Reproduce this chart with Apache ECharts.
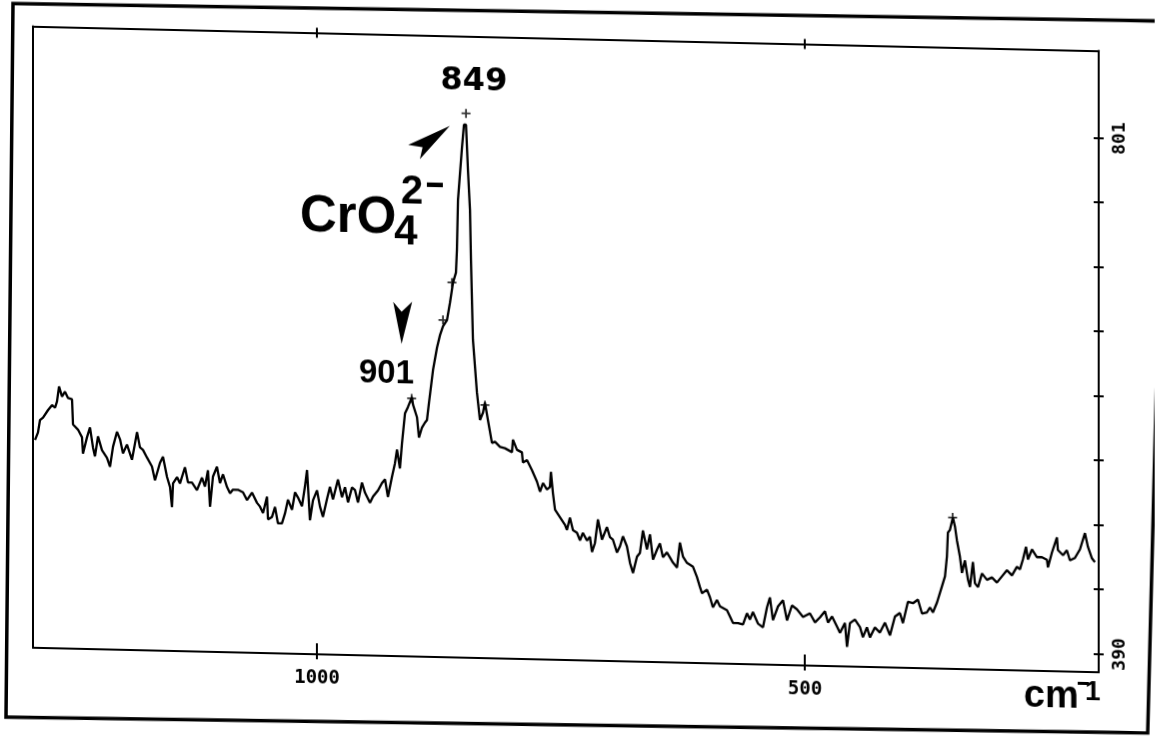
<!DOCTYPE html>
<html><head><meta charset="utf-8">
<script src="https://cdn.jsdelivr.net/npm/echarts@6/dist/echarts.min.js"></script>
<style>
html,body{margin:0;padding:0;background:#fff;overflow:hidden;width:1155px;height:736px}
#wrap{position:absolute;left:0;top:-24px;width:1155px;height:760px;transform:skewY(1.3176deg);transform-origin:0 0}
#main{width:1155px;height:760px}
</style></head><body>
<div id="wrap"><div id="main"></div></div>
<script>
// Raman shift (cm-1), descending as plotted
const wavenumber = [
1288.9,1285.9,1283.8,1280.7,1275.6,1271.5,1268.4,1266.4,1264.3,1261.3,
1258.2,1255.1,1251.0,1250.0,1244.9,1240.8,1239.8,1235.7,1232.6,1229.5,
1227.5,1224.4,1220.3,1215.2,1212.1,1209.0,1204.9,1201.8,1198.8,1194.7,
1189.6,1186.5,1184.4,1181.4,1178.3,1174.2,1169.1,1166.0,1160.9,1157.8,
1153.7,1150.6,1148.6,1147.5,1143.4,1140.4,1135.3,1132.2,1128.1,1123.0,
1117.8,1114.8,1111.7,1109.6,1106.6,1102.5,1099.4,1096.3,1092.2,1089.1,
1086.1,1081.0,1075.8,1071.7,1066.6,1061.5,1058.4,1055.3,1051.2,1050.2,
1046.1,1043.0,1040.0,1035.9,1032.8,1029.7,1025.6,1022.5,1019.5,1015.4,
1012.3,1010.2,1007.2,1004.1,1000.0,996.9,993.9,989.8,986.7,983.6,
978.5,974.4,971.3,968.2,964.1,961.1,958.0,953.9,950.8,945.7,
942.6,937.5,933.4,930.3,927.3,923.2,920.1,918.0,915.0,912.9,
909.8,906.8,902.7,901.6,897.5,895.5,892.4,889.3,887.3,885.2,
881.1,877.0,873.9,870.9,866.8,863.7,860.6,857.6,856.6,855.5,
851.4,849.4,847.3,845.3,843.2,842.2,840.2,836.1,833.0,829.9,
827.9,824.8,820.7,817.6,812.5,807.4,800.2,799.2,795.1,790.0,
789.0,784.8,779.7,774.6,771.5,768.4,764.4,761.3,760.3,758.2,
756.1,751.0,745.9,743.9,740.8,737.7,733.6,730.5,727.5,723.4,
720.3,718.2,715.2,712.1,708.0,702.9,699.8,696.7,692.6,689.5,
686.5,682.4,679.3,676.2,672.1,669.1,666.0,661.9,658.8,655.7,
651.6,648.6,645.5,641.4,638.3,635.3,631.1,628.1,625.0,620.9,
614.7,610.7,607.6,605.5,600.4,597.3,594.3,590.2,587.1,579.9,
576.8,573.8,568.6,563.5,559.4,556.4,553.3,548.2,543.0,538.9,
535.9,532.8,527.6,522.5,518.4,513.3,508.2,502.0,494.9,489.7,
484.6,479.5,476.4,472.3,467.2,464.1,459.0,456.9,453.9,448.8,
443.6,440.6,436.5,433.4,428.3,423.2,418.0,412.9,407.8,402.7,
399.6,394.5,389.3,384.2,380.1,375.0,371.9,368.9,364.7,359.6,
356.5,354.5,353.5,351.5,348.4,346.3,344.3,341.2,339.1,336.1,
333.0,330.9,327.9,325.8,322.7,318.6,313.5,308.4,303.3,298.2,
293.0,287.9,282.8,279.7,276.6,273.5,271.5,267.4,262.3,257.2,
252.0,251.0,246.9,241.8,240.8,235.6,231.6,228.5,223.4,218.2,
213.1,210.0,205.9,202.9
];
// Intensity (counts, right-axis scale)
const intensity = [
541,547,557,559,565,569,567,572,584,576,
580,575,574,554,550,544,531,544,552,536,
529,545,534,528,521,537,549,543,532,539,
527,540,549,537,535,529,522,511,525,530,
514,506,490,509,514,509,522,510,510,504,
514,507,520,491,515,523,510,517,507,502,
505,505,503,497,503,495,492,487,500,482,
484,492,479,479,487,498,490,504,500,493,
509,522,482,498,506,493,485,499,509,499,
515,501,509,497,509,507,497,513,505,497,
502,507,513,516,502,518,529,540,525,545,
569,574,582,576,566,550,558,562,564,578,
604,622,632,639,644,658,674,682,700,740,
782,800,800,764,732,692,629,587,565,571,
579,565,547,548,544,543,540,550,542,540,
532,534,526,517,509,516,511,513,525,508,
495,489,483,479,489,479,477,471,477,471,
474,462,469,488,472,482,474,472,462,467,
475,467,454,446,459,462,480,465,477,457,
465,470,459,463,459,455,451,471,460,455,
452,444,436,431,434,428,420,426,421,418,
413,408,408,407,416,411,417,408,405,421,
429,411,422,427,411,423,420,414,417,410,
414,419,410,415,407,402,410,391,410,413,
407,399,407,399,407,403,411,401,416,419,
411,428,427,430,419,420,424,420,428,441,
449,465,484,486,496,489,478,465,452,462,
447,441,461,444,441,452,447,449,445,450,
455,451,458,456,464,474,464,472,466,466,
464,458,470,482,472,468,472,464,466,473,
486,475,466,463
];
// plotter peak markers
const peakMarkX = [847.3, 903.0, 870.9, 861.7, 827.9, 348.7];
const peakMarkY = [809, 581, 644, 674, 577, 496];
// axes
const xMin = 199, xMax = 1291;
const yMin = 375.4, yMax = 870.5;
const xTickValues = [1000, 500];
const xLabelValues = [1000, 500];
const yTickValues = [390, 441.375, 492.75, 544.125, 595.5, 646.875, 698.25, 749.625, 801];
const yLabelValues = [390, 801];

const chart = echarts.init(document.getElementById('main'), null, {renderer:'canvas'});
const black = '#000';
const axisLineStyle = {color: black, width: 2};
function xAx(pos, showLine, inside, len, labels){
  return {
    type:'value', position:pos, min:xMin, max:xMax, inverse:true,
    axisLine:{show:showLine, onZero:false, lineStyle:axisLineStyle},
    splitLine:{show:false},
    axisTick:{show:true, inside:inside, length:len, customValues:xTickValues, lineStyle:{color:black,width:2}},
    axisLabel: labels ? {show:true, customValues:xLabelValues, margin:15, color:black,
      fontFamily:'DejaVu Sans Mono', fontWeight:'bold', fontSize:19, formatter:v=>String(Math.round(v))} : {show:false}
  };
}
function yAx(pos, showLine, showTick, inside, labels){
  return {
    type:'value', position:pos, min:yMin, max:yMax,
    axisLine:{show:showLine, onZero:false, lineStyle:axisLineStyle},
    splitLine:{show:false},
    axisTick:{show:showTick, inside:inside, length:5, customValues:yTickValues, lineStyle:{color:black,width:2}},
    axisLabel: labels ? {show:true, customValues:yLabelValues, rotate:90, margin:12, color:black,
      fontFamily:'DejaVu Sans Mono', fontWeight:'bold', fontSize:18, formatter:v=>String(Math.round(v))} : {show:false}
  };
}
const txt = (x,y,text,font,align)=>({type:'text', x:x, y:y, z:10,
  style:{text:text, font:font, fill:black, align:align||'center', verticalAlign:'middle',
         textAlign:align||'center', textVerticalAlign:'middle'}});

const option = {
  animation:false,
  backgroundColor:'#fff',
  grid:{left:33, right:56, top:49.5, bottom:89, show:false},
  xAxis:[ xAx('bottom', true, false, 5, true), xAx('bottom', false, true, 11, false),
          xAx('top', true, true, 5, false), xAx('top', false, false, 5, false) ],
  yAxis:[ yAx('right', true, true, false, true), yAx('right', false, true, true, false),
          yAx('left', true, false, false, false) ],
  series:[
    {type:'line', xAxisIndex:0, yAxisIndex:0, data: wavenumber.map((w,i)=>[w,intensity[i]]),
     showSymbol:false, symbol:'none', lineStyle:{color:black, width:2.3}, z:3},
    {type:'scatter', xAxisIndex:0, yAxisIndex:0, data: peakMarkX.map((w,i)=>[w,peakMarkY[i]]),
     symbol:'path://M4,0h2v10h-2z M0,4h10v2h-10z', symbolSize:9, itemStyle:{color:black}, z:4}
  ],
  graphic:[
    {type:'polygon', z:1, shape:{points:[[13,27.2],[1166,18.2],[1148,730.6],[6,740.9]]},
     style:{fill:null, stroke:black, lineWidth:3.5}},
    {type:'polygon', z:10, shape:{points:[[450,139.4],[408.3,159.6],[422.7,161.6],[420,173.6]]}, style:{fill:black}},
    {type:'polygon', z:10, shape:{points:[[393.3,316.7],[401.7,326.5],[412.3,316.2],[401.7,358.8]]}, style:{fill:black}},
    txt(474, 94.6, '849', 'bold 32px "DejaVu Sans"'),
    txt(386.5, 389.1, '901', 'bold 33px "Liberation Sans"'),
    txt(300, 233.6, 'CrO', 'bold 51px "Liberation Sans"', 'left'),
    txt(412, 207, '2', 'bold 40px "Liberation Sans"'),
    txt(406, 247.2, '4', 'bold 42px "Liberation Sans"'),
    {type:'rect', z:10, shape:{x:427, y:196.6, width:16, height:4.5}, style:{fill:black}},
    txt(1024, 697, 'cm', 'bold 38px "Liberation Sans"', 'left'),
    {type:'rect', z:10, shape:{x:1078, y:681, width:11, height:3}, style:{fill:black}},
    txt(1093, 691, '1', 'bold 28px "Liberation Sans"')
  ]
};
chart.setOption(option);
</script>
</body></html>
